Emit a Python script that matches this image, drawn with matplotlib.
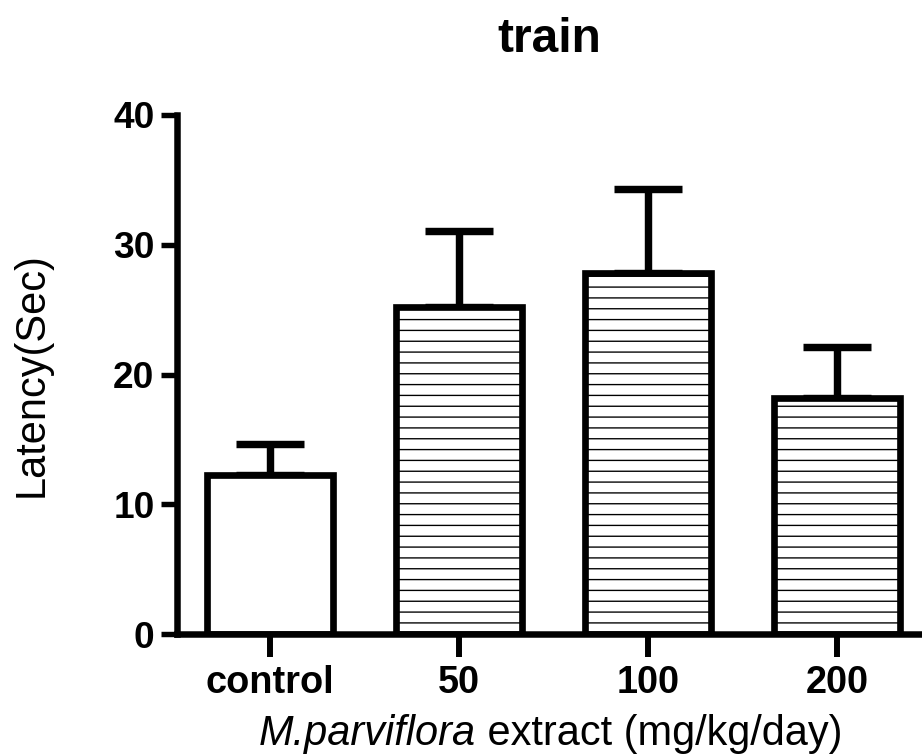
import numpy as np
import matplotlib
matplotlib.use("Agg")
import matplotlib.pyplot as plt

categories = ["control", "50", "100", "200"]
means = [12.22, 25.19, 27.83, 18.22]
sems = [2.43, 5.86, 6.47, 3.88]
hatches = ["", "--", "--", "--"]
yticks = [0, 10, 20, 30, 40]

DPI = 130
W, H = 922, 755
plt.rcParams["font.family"] = ["Liberation Sans", "DejaVu Sans"]
plt.rcParams["hatch.linewidth"] = 0.75
plt.rcParams["hatch.color"] = "black"

fig = plt.figure(figsize=(W / DPI, H / DPI), dpi=DPI)
left, right, bottom, top = 177, 922, 634, 115
ax = fig.add_axes([left / W, (H - bottom) / H, (right - left) / W, (bottom - top) / H])

x = np.arange(len(categories))
lw = 3.7
ax.errorbar(x, means, yerr=[np.zeros(len(sems)), sems], fmt="none", ecolor="black",
            elinewidth=4.1, capsize=19, capthick=4.1, zorder=2)
ax.bar(x, means, width=0.667, color="white", edgecolor="black", linewidth=lw,
       hatch=hatches, zorder=3)

ax.set_xlim(-0.492, 3.45)
ax.set_ylim(0, 40)
ax.set_yticks(yticks)
ax.set_xticks(x)
ax.set_xticklabels(categories)

for s in ["top", "right"]:
    ax.spines[s].set_visible(False)
for s in ["left", "bottom"]:
    ax.spines[s].set_linewidth(3.6)
    ax.spines[s].set_zorder(4)

ax.tick_params(axis="y", length=9, width=3.0, pad=3.5, labelsize=20.5)
ax.tick_params(axis="x", length=12.5, width=3.3, pad=4.5, labelsize=21)
for lab in ax.get_xticklabels() + ax.get_yticklabels():
    lab.set_fontweight("bold")

ax.set_title("train", fontsize=26.5, fontweight="bold", pad=35)
ax.set_ylabel("Latency(Sec)", fontsize=23)
ax.yaxis.set_label_coords((52 - left) / (right - left), 0.5)

# x label: italic species name + normal text, centred under the axes
ylab = (bottom - 745) / (bottom - top)
t1 = ax.text(0.5, ylab, "M.parviflora", fontsize=23, fontstyle="italic",
             transform=ax.transAxes, ha="left", va="baseline")
t2 = ax.text(0.5, ylab, " extract (mg/kg/day)", fontsize=23,
             transform=ax.transAxes, ha="left", va="baseline")
fig.canvas.draw()
r = fig.canvas.get_renderer()
w1 = t1.get_window_extent(r).width
w2 = t2.get_window_extent(r).width
axw = ax.get_window_extent(r).width
cx = 551
start = (cx - left) / (right - left) - (w1 + w2) / 2 / axw
t1.set_x(start)
t2.set_x(start + w1 / axw)

fig.savefig("out.png", dpi=DPI)
